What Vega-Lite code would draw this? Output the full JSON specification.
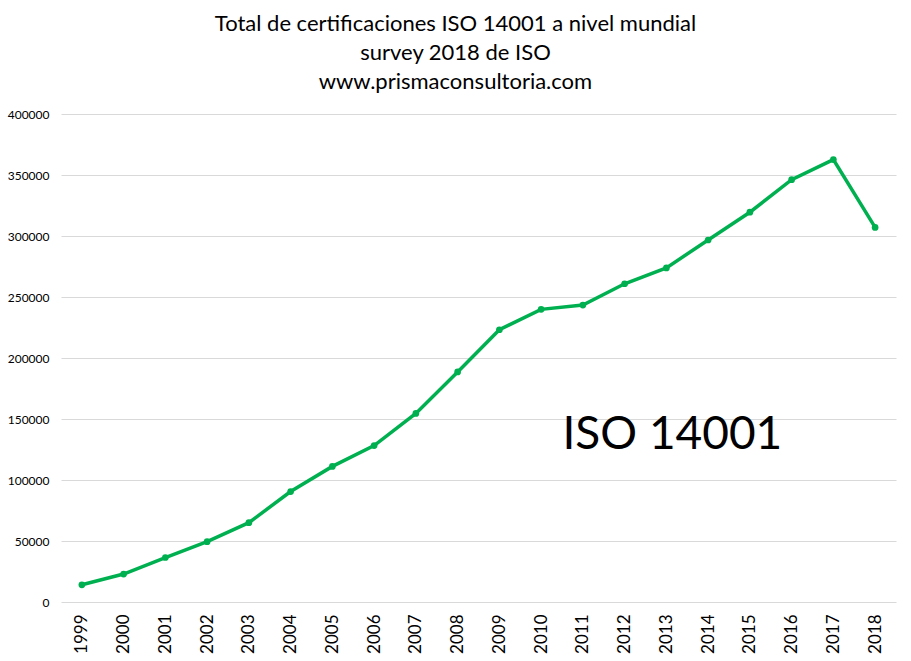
{
  "$schema": "https://vega.github.io/schema/vega-lite/v6.json",
  "autosize": "none",
  "padding": {"left": 61, "top": 114, "right": 15, "bottom": 59},
  "width": 835,
  "height": 488,
  "background": "white",
  "title": {
    "text": ["Total de certificaciones ISO 14001 a nivel mundial", "survey 2018 de ISO", "www.prismaconsultoria.com"],
    "font": "Lato",
    "fontSize": 22,
    "fontWeight": "normal",
    "lineHeight": 29,
    "color": "#000000",
    "anchor": "middle",
    "dx": -23,
    "offset": 14
  },
  "data": {
    "values": [
      {"year": "1999", "total": 14106},
      {"year": "2000", "total": 22897},
      {"year": "2001", "total": 36464},
      {"year": "2002", "total": 49440},
      {"year": "2003", "total": 64996},
      {"year": "2004", "total": 90554},
      {"year": "2005", "total": 111163},
      {"year": "2006", "total": 128211},
      {"year": "2007", "total": 154572},
      {"year": "2008", "total": 188574},
      {"year": "2009", "total": 223149},
      {"year": "2010", "total": 239880},
      {"year": "2011", "total": 243393},
      {"year": "2012", "total": 260852},
      {"year": "2013", "total": 273861},
      {"year": "2014", "total": 296736},
      {"year": "2015", "total": 319496},
      {"year": "2016", "total": 346147},
      {"year": "2017", "total": 362610},
      {"year": "2018", "total": 307059}
    ]
  },
  "encoding": {
    "x": {
      "field": "year",
      "type": "ordinal",
      "title": null,
      "scale": {"paddingInner": 0, "paddingOuter": 0.5},
      "axis": {
        "labelAngle": -90,
        "labelAlign": "right",
        "labelBaseline": "middle",
        "labelFont": "Lato",
        "labelFontSize": 17,
        "labelColor": "#000000",
        "labelPadding": 12,
        "ticks": false,
        "domain": false,
        "grid": false
      }
    },
    "y": {
      "field": "total",
      "type": "quantitative",
      "title": null,
      "scale": {"domain": [0, 400000], "nice": false},
      "axis": {
        "values": [0, 50000, 100000, 150000, 200000, 250000, 300000, 350000, 400000],
        "format": "d",
        "labelFont": "Lato",
        "labelFontSize": 12,
        "labelColor": "#000000",
        "labelPadding": 12,
        "ticks": false,
        "domain": false,
        "grid": true,
        "gridColor": "#d9d9d9",
        "gridWidth": 1
      }
    }
  },
  "layer": [
    {
      "mark": {"type": "line", "color": "#00b050", "strokeWidth": 3.5},
      "encoding": {}
    },
    {
      "mark": {"type": "point", "filled": true, "color": "#00b050", "opacity": 1, "size": 45},
      "encoding": {}
    },
    {
      "data": {"values": [{"year": "2013", "total": 137000, "label": "ISO 14001"}]},
      "mark": {"type": "text", "font": "Lato", "fontSize": 46, "color": "#000000", "align": "center", "baseline": "middle", "dx": 6},
      "encoding": {"text": {"field": "label"}}
    }
  ],
  "config": {"view": {"stroke": null}}
}
